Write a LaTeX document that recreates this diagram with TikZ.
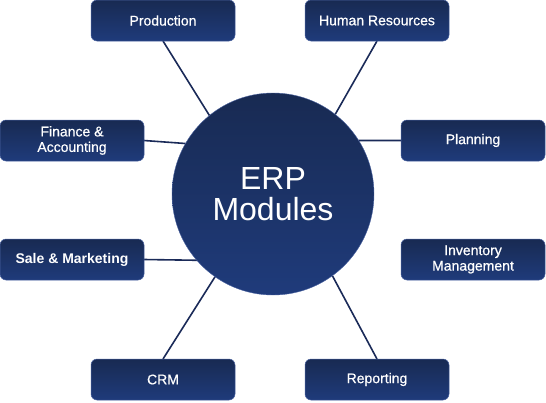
\documentclass[tikz,border=0pt]{standalone}
\usepackage{fontspec}
\setmainfont{Liberation Sans}
\newfontface\mediumface{Liberation Sans}[FakeBold=0.6]
\usepackage{tikz}
\usetikzlibrary{backgrounds}
\definecolor{erpdark}{HTML}{182A52}
\definecolor{erpblue}{HTML}{1F3B7B}
\definecolor{erpedge}{HTML}{4A62A0}
\definecolor{erpline}{HTML}{1A2A58}

\begin{document}
\begin{tikzpicture}[x=1pt,y=-1pt,
  module/.style={draw=erpedge,line width=0.5pt,top color=erpdark,bottom color=erpblue,rounded corners=6pt,
    minimum width=144pt,minimum height=41pt,outer sep=0pt,align=center,text=white,font=\mediumface\fontsize{14}{15.5}\selectfont},
  hub/.style={circle,draw=erpedge,line width=0.4pt,top color=erpdark,bottom color=erpblue,minimum size=202pt,
    outer sep=0pt,align=center,text=white,font=\fontsize{32}{31}\selectfont},
  link/.style={draw=erpline,line width=1.6pt}]
  \useasboundingbox (0,0) rectangle (546,402);
  \node[hub] (erp) at (273,194) {ERP\\Modules};
  \node[module] (prod) at (163,20.5) {Production};
  \node[module] (hr) at (377,20.5) {Human Resources};
  \node[module] (fin) at (72,140.5) {Finance \&\\Accounting};
  \node[module] (plan) at (473,140.5) {Planning};
  \node[module] (sale) at (72,259.5) {\normalfont\bfseries Sale \& Marketing};
  \node[module] (inv) at (473,259.5) {Inventory\\Management};
  \node[module] (crm) at (163,379.5) {CRM};
  \node[module] (rep) at (377,379.5) {Reporting};
  \begin{scope}[on background layer]
    \foreach \a/\b in {prod.south/129.5,hr.south/52,fin.east/150,plan.west/32.6,sale.east/221.8,crm.north/235.7,rep.north/306.3}
      \draw[link] (\a) -- (erp.\b);
  \end{scope}
\end{tikzpicture}
\end{document}
